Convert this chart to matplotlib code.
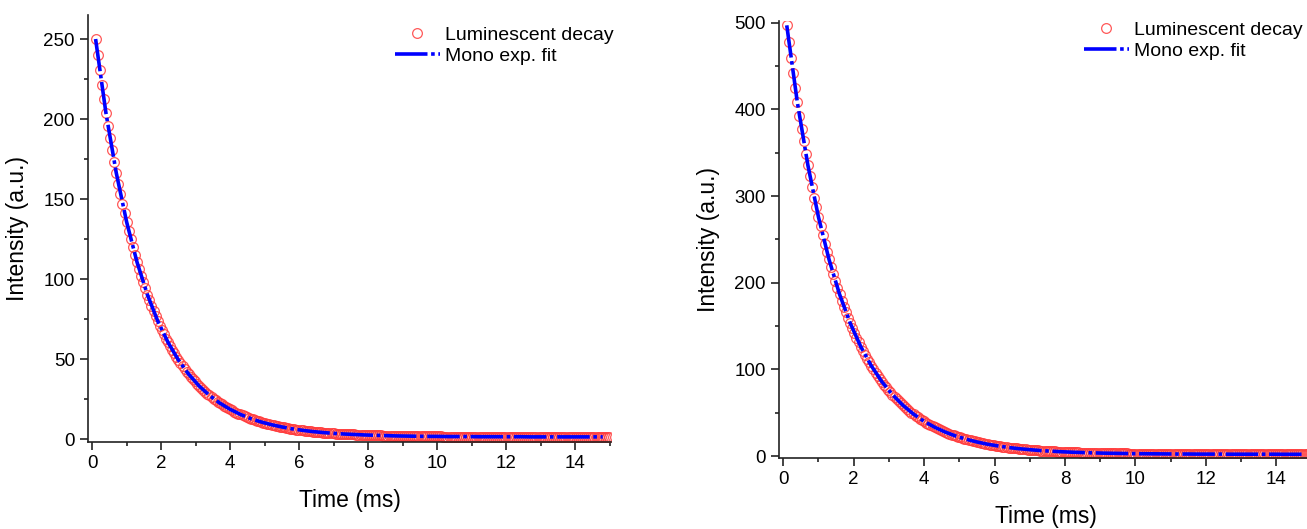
import matplotlib
matplotlib.use("Agg")
import matplotlib.pyplot as plt
import numpy as np

plt.rcParams['font.family'] = ['Liberation Sans', 'DejaVu Sans']

# sampling grid of the decay curves (ms)
t_data = np.round(0.1 + 0.06 * np.arange(249), 2)
t_fit = np.round(0.1 + 0.3 * np.arange(50), 2)

# left panel: luminescent decay (a.u.)
decay_left = [
    250.0, 240.0, 230.4, 221.2, 212.3, 203.8, 195.7, 187.9, 180.4, 173.2,
    166.3, 159.6, 153.3, 147.1, 141.3, 135.7, 130.3, 125.1, 120.1, 115.3,
    110.7, 106.3, 102.1, 98.1, 94.2, 90.4, 86.9, 83.4, 80.1, 77.0,
    73.9, 71.0, 68.2, 65.5, 62.9, 60.5, 58.1, 55.8, 53.6, 51.5,
    49.5, 47.6, 45.7, 44.0, 42.2, 40.6, 39.0, 37.5, 36.1, 34.7,
    33.3, 32.1, 30.8, 29.6, 28.5, 27.4, 26.4, 25.4, 24.4, 23.5,
    22.6, 21.8, 20.9, 20.2, 19.4, 18.7, 18.0, 17.3, 16.7, 16.1,
    15.5, 14.9, 14.4, 13.9, 13.4, 12.9, 12.4, 12.0, 11.6, 11.2,
    10.8, 10.4, 10.0, 9.7, 9.4, 9.1, 8.8, 8.5, 8.2, 7.9,
    7.7, 7.4, 7.2, 6.9, 6.7, 6.5, 6.3, 6.1, 5.9, 5.8,
    5.6, 5.4, 5.3, 5.1, 5.0, 4.8, 4.7, 4.6, 4.4, 4.3,
    4.2, 4.1, 4.0, 3.9, 3.8, 3.7, 3.6, 3.5, 3.4, 3.4,
    3.3, 3.2, 3.2, 3.1, 3.0, 3.0, 2.9, 2.8, 2.8, 2.7,
    2.7, 2.6, 2.6, 2.6, 2.5, 2.5, 2.4, 2.4, 2.4, 2.3,
    2.3, 2.3, 2.2, 2.2, 2.2, 2.1, 2.1, 2.1, 2.1, 2.0,
    2.0, 2.0, 2.0, 2.0, 1.9, 1.9, 1.9, 1.9, 1.9, 1.9,
    1.8, 1.8, 1.8, 1.8, 1.8, 1.8, 1.8, 1.8, 1.7, 1.7,
    1.7, 1.7, 1.7, 1.7, 1.7, 1.7, 1.7, 1.7, 1.7, 1.7,
    1.7, 1.6, 1.6, 1.6, 1.6, 1.6, 1.6, 1.6, 1.6, 1.6,
    1.6, 1.6, 1.6, 1.6, 1.6, 1.6, 1.6, 1.6, 1.6, 1.6,
    1.6, 1.6, 1.6, 1.6, 1.6, 1.6, 1.6, 1.6, 1.5, 1.5,
    1.5, 1.5, 1.5, 1.5, 1.5, 1.5, 1.5, 1.5, 1.5, 1.5,
    1.5, 1.5, 1.5, 1.5, 1.5, 1.5, 1.5, 1.5, 1.5, 1.5,
    1.5, 1.5, 1.5, 1.5, 1.5, 1.5, 1.5, 1.5, 1.5, 1.5,
    1.5, 1.5, 1.5, 1.5, 1.5, 1.5, 1.5, 1.5, 1.5,
]
fit_left = [
    250.0, 203.8, 166.3, 135.7, 110.7, 90.4, 73.9, 60.5, 49.5, 40.6,
    33.3, 27.4, 22.6, 18.7, 15.5, 12.9, 10.8, 9.1, 7.7, 6.5,
    5.6, 4.8, 4.2, 3.7, 3.3, 3.0, 2.7, 2.5, 2.3, 2.1,
    2.0, 1.9, 1.8, 1.8, 1.7, 1.7, 1.7, 1.6, 1.6, 1.6,
    1.6, 1.6, 1.5, 1.5, 1.5, 1.5, 1.5, 1.5, 1.5, 1.5,
]

# right panel
decay_right = [
    497.0, 477.8, 459.4, 441.7, 424.7, 408.3, 392.6, 377.5, 363.0, 349.0,
    335.6, 322.6, 310.2, 298.3, 286.8, 275.8, 265.2, 255.0, 245.2, 235.8,
    226.8, 218.1, 209.7, 201.7, 193.9, 186.5, 179.4, 172.5, 165.9, 159.6,
    153.5, 147.6, 142.0, 136.5, 131.3, 126.3, 121.5, 116.9, 112.4, 108.2,
    104.1, 100.1, 96.3, 92.7, 89.2, 85.8, 82.5, 79.4, 76.4, 73.5,
    70.8, 68.1, 65.6, 63.1, 60.7, 58.5, 56.3, 54.2, 52.2, 50.2,
    48.3, 46.6, 44.8, 43.2, 41.6, 40.0, 38.6, 37.2, 35.8, 34.5,
    33.2, 32.0, 30.9, 29.7, 28.7, 27.6, 26.6, 25.7, 24.8, 23.9,
    23.0, 22.2, 21.4, 20.7, 20.0, 19.3, 18.6, 18.0, 17.3, 16.8,
    16.2, 15.6, 15.1, 14.6, 14.1, 13.6, 13.2, 12.8, 12.3, 11.9,
    11.6, 11.2, 10.8, 10.5, 10.2, 9.8, 9.5, 9.3, 9.0, 8.7,
    8.4, 8.2, 8.0, 7.7, 7.5, 7.3, 7.1, 6.9, 6.7, 6.5,
    6.3, 6.2, 6.0, 5.9, 5.7, 5.6, 5.4, 5.3, 5.2, 5.0,
    4.9, 4.8, 4.7, 4.6, 4.5, 4.4, 4.3, 4.2, 4.1, 4.0,
    4.0, 3.9, 3.8, 3.8, 3.7, 3.6, 3.6, 3.5, 3.4, 3.4,
    3.3, 3.3, 3.2, 3.2, 3.1, 3.1, 3.0, 3.0, 3.0, 2.9,
    2.9, 2.9, 2.8, 2.8, 2.8, 2.7, 2.7, 2.7, 2.7, 2.6,
    2.6, 2.6, 2.6, 2.5, 2.5, 2.5, 2.5, 2.5, 2.4, 2.4,
    2.4, 2.4, 2.4, 2.4, 2.3, 2.3, 2.3, 2.3, 2.3, 2.3,
    2.3, 2.3, 2.3, 2.2, 2.2, 2.2, 2.2, 2.2, 2.2, 2.2,
    2.2, 2.2, 2.2, 2.2, 2.2, 2.2, 2.1, 2.1, 2.1, 2.1,
    2.1, 2.1, 2.1, 2.1, 2.1, 2.1, 2.1, 2.1, 2.1, 2.1,
    2.1, 2.1, 2.1, 2.1, 2.1, 2.1, 2.1, 2.1, 2.1, 2.1,
    2.1, 2.1, 2.1, 2.1, 2.1, 2.0, 2.0, 2.0, 2.0, 2.0,
    2.0, 2.0, 2.0, 2.0, 2.0, 2.0, 2.0, 2.0, 2.0,
]
fit_right = [
    497.0, 408.3, 335.6, 275.8, 226.8, 186.5, 153.5, 126.3, 104.1, 85.8,
    70.8, 58.5, 48.3, 40.0, 33.2, 27.6, 23.0, 19.3, 16.2, 13.6,
    11.6, 9.8, 8.4, 7.3, 6.3, 5.6, 4.9, 4.4, 4.0, 3.6,
    3.3, 3.1, 2.9, 2.7, 2.6, 2.5, 2.4, 2.3, 2.3, 2.2,
    2.2, 2.2, 2.1, 2.1, 2.1, 2.1, 2.1, 2.0, 2.0, 2.0,
]

W, H = 1307, 529
fig = plt.figure(figsize=(W / 100, H / 100), dpi=100)

def px_axes(l, r, t, b):
    return fig.add_axes([l / W, 1 - b / H, (r - l) / W, (b - t) / H])

panels = [
    dict(box=(88, 611, 15, 442), x=t_data, y=decay_left, xf=t_fit, yf=fit_left,
         ylim=(-1.7, 265), yt=np.arange(0, 251, 50), ymin=np.arange(25, 251, 50),
         leg=(395, 26), xlpad=12, ylpad=10),
    dict(box=(779, 1313, 21, 458), x=t_data, y=decay_right, xf=t_fit, yf=fit_right,
         ylim=(-2.3, 502), yt=np.arange(0, 501, 100), ymin=np.arange(50, 501, 100),
         leg=(1084, 21), xlpad=12, ylpad=10),
]

for p in panels:
    ax = px_axes(*p['box'])
    ax.plot(p['x'], p['y'], 'o', ls='none', mfc='none', mec='#ff3b3b',
            ms=7, mew=0.9, alpha=0.85, label='Luminescent decay')
    ax.plot(p['xf'], p['yf'], color='#0000ff', lw=2.6, ls=(0, (9, 1, 1, 1)),
            label='Mono exp. fit')
    ax.set_xlim(-0.12, 15.04)
    ax.set_ylim(*p['ylim'])
    ax.set_xticks(np.arange(0, 15, 2))
    ax.set_xticks(np.arange(1, 16, 2), minor=True)
    ax.set_yticks(p['yt'])
    ax.set_yticks(p['ymin'], minor=True)
    for s in ['top', 'right']:
        ax.spines[s].set_visible(False)
    for s in ['left', 'bottom']:
        ax.spines[s].set_linewidth(1.2)
        ax.spines[s].set_color('#222222')
    ax.tick_params(which='major', direction='out', length=5.5, width=1.2,
                   labelsize=13.5, color='#222222', pad=4)
    ax.tick_params(which='minor', direction='out', length=3, width=1.2,
                   color='#222222')
    ax.set_xlabel('Time (ms)', fontsize=16.5, labelpad=p['xlpad'])
    ax.set_ylabel('Intensity (a.u.)', fontsize=16.5, labelpad=p['ylpad'])
    lx, ly = p['leg']
    ax.legend(loc='upper left', bbox_to_anchor=(lx / W, 1 - ly / H),
              bbox_transform=fig.transFigure, frameon=False, fontsize=14,
              handlelength=2.3, handletextpad=0.25, labelspacing=0.2,
              borderpad=0, borderaxespad=0)

plt.savefig('out.png', dpi=100)
